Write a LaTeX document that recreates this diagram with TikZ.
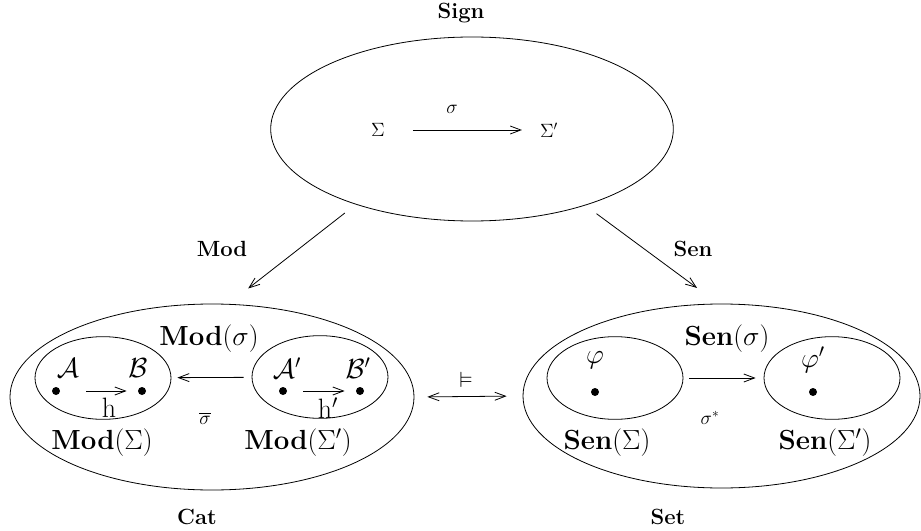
\documentclass[tikz,border=0pt]{standalone}
\usepackage{amssymb}
\usetikzlibrary{shapes.geometric,arrows.meta}

\tikzset{every picture/.style={line width=0.6pt}}
\tikzset{
  oval/.style={draw, ellipse, inner sep=0pt},
  bigoval/.style={oval, minimum width=302pt, minimum height=138pt},
  smalloval/.style={oval, minimum width=102pt, minimum height=62pt},
  dotnode/.style={circle, fill, inner sep=0pt, minimum size=6pt},
  arr/.style={-{Straight Barb[length=8pt,width=6pt]}},
  arrboth/.style={{Straight Barb[length=8pt,width=6pt]}-{Straight Barb[length=8pt,width=6pt]}},
  lbig/.style={inner sep=0.75pt, font=\fontsize{21}{25}\selectfont},
  lmid/.style={inner sep=0.75pt, font=\fontsize{16.5}{20}\selectfont},
  lsmall/.style={inner sep=0.75pt, font=\fontsize{14}{17}\selectfont},
}

\begin{document}
\begin{tikzpicture}[x=0.75pt,y=0.75pt,yscale=-1,xscale=1]
\useasboundingbox (0,0) rectangle (921,531);

%Shape: Ellipse
\node[bigoval] (sign) at (472,129) {};
%Shape: Ellipse
\node[bigoval, minimum width=303pt, minimum height=139.5pt] (cat) at (212,397) {};
%Shape: Ellipse
\node[bigoval, minimum width=297.75pt] (set) at (721.5,396) {};
%Shape: Ellipse
\node[smalloval] (mods) at (103,378) {};
%Shape: Ellipse
\node[smalloval] (modsp) at (320,377) {};
%Shape: Ellipse
\node[smalloval] (sens) at (615,378) {};
%Shape: Ellipse
\node[smalloval] (sensp) at (832,378) {};

% Dots
\node[dotnode] (da) at (56,391) {};
\node[dotnode] (db) at (142,391) {};
\node[dotnode] (dap) at (283,391) {};
\node[dotnode] (dbp) at (360,391) {};
\node[dotnode] (dphi) at (595,392) {};
\node[dotnode] (dphip) at (813,392) {};

% Text Node
\node[lmid] (signlbl) at (461,13) {\bfseries Sign};
% Text Node
\node[lsmall] (sig) at (378,130) {$\Sigma$};
% Text Node
\node[lsmall] (sigp) at (549,130) {$\Sigma'$};
% Text Node
\node[lsmall] (sigma) at (452,109) {$\sigma$};
% Text Node
\node[lmid] (modlbl) at (222,249) {\bfseries Mod};
% Text Node
\node[lmid] (senlbl) at (693,249) {\bfseries Sen};
% Text Node
\node[lbig] (modsigma) at (209,339) {$\mathbf{Mod}(\sigma)$};
% Text Node
\node[lsmall] (sigbar) at (205,418) {$\overline{\sigma}$};
% Text Node
\node[lbig] (modS) at (102,443) {$\mathbf{Mod}(\Sigma)$};
% Text Node
\node[lbig] (modSp) at (298,443) {$\mathbf{Mod}(\Sigma')$};
% Text Node
\node[lbig] (la) at (68,368) {$\mathcal{A}$};
% Text Node
\node[lbig] (lb) at (138,368) {$\mathcal{B}$};
% Text Node
\node[lbig] (lh) at (109,408) {h};
% Text Node
\node[lbig] (lap) at (287,368) {$\mathcal{A}'$};
% Text Node
\node[lbig] (lbp) at (358,368) {$\mathcal{B}'$};
% Text Node
\node[lbig] (lhp) at (328,408) {h$'$};
% Text Node
\node[lmid] (sat) at (466,380) {$\vDash$};
% Text Node
\node[lbig] (lphi) at (595,360) {$\varphi$};
% Text Node
\node[lbig] (lphip) at (813,360) {$\varphi'$};
% Text Node
\node[lbig] (sensigma) at (727,339) {$\mathbf{Sen}(\sigma)$};
% Text Node
\node[lsmall] (sigstar) at (710,418) {$\sigma^{*}$};
% Text Node
\node[lbig] (senS) at (607,443) {$\mathbf{Sen}(\Sigma)$};
% Text Node
\node[lbig] (senSp) at (825,443) {$\mathbf{Sen}(\Sigma')$};
% Text Node
\node[lmid] (catlbl) at (197,517) {\bfseries Cat};
% Text Node
\node[lmid] (setlbl) at (668,517) {\bfseries Set};

%Straight Lines
\draw[arr, shorten <=20pt, shorten >=12.5pt] (sig) -- (sigp);
%Straight Lines
\draw[arr, shorten <=10.4pt, shorten >=18.8pt] (sign.213.5) -- (cat.80.8);
%Straight Lines
\draw[arr, shorten <=10.4pt, shorten >=19.8pt] (sign.326.5) -- (set.92.2);
%Straight Lines
\draw[arr, shorten <=6pt, shorten >=4.5pt] (modsp) -- (mods);
%Straight Lines
\draw[arr, shorten <=4.5pt, shorten >=6pt] (sens) -- (sensp);
%Straight Lines
\draw[arr, shorten <=19.5pt, shorten >=8.25pt] (da) -- (db);
%Straight Lines
\draw[arr, shorten <=12pt, shorten >=8.25pt] (dap) -- (dbp);
%Straight Lines
\draw[arrboth, shorten <=9.75pt, shorten >=12pt] (cat.east) -- (set.west);

\end{tikzpicture}
\end{document}
